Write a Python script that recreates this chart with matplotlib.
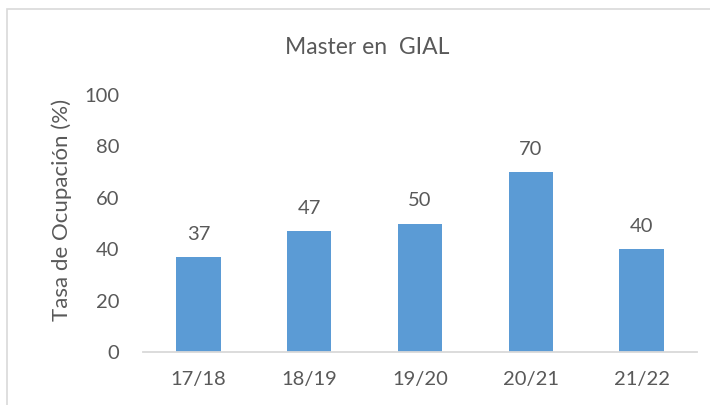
import matplotlib
matplotlib.use("Agg")
import matplotlib.pyplot as plt
from matplotlib.patches import Rectangle

categories = ["17/18", "18/19", "19/20", "20/21", "21/22"]
values = [37, 47, 50, 70, 40]
yticks = [0, 20, 40, 60, 80, 100]

W, H = 710, 405
fig = plt.figure(figsize=(W/100, H/100), dpi=100)
plt.rcParams['font.family'] = ['Lato', 'DejaVu Sans']
txt = '#595959'

ax = fig.add_axes([143/W, 1-352/H, (697-143)/W, (352-95)/H])
x = range(len(categories))
ax.bar(x, values, width=0.4, color='#5B9BD5')
ax.set_xlim(-0.5, len(categories)-0.5)
ax.set_ylim(0, 100)
ax.set_yticks(yticks)
ax.set_xticks(list(x))
ax.set_xticklabels(categories)
for s in ['top', 'right', 'left']:
    ax.spines[s].set_visible(False)
ax.spines['bottom'].set_color('#D9D9D9')
ax.spines['bottom'].set_linewidth(1.3)
ax.tick_params(axis='both', length=0, labelsize=14.5, colors=txt)
ax.tick_params(axis='y', pad=17)
ax.tick_params(axis='x', pad=14)
for xi, v in zip(x, values):
    ax.text(xi, v + 5.5, f"{v}", ha='center', va='bottom', fontsize=14.5, color=txt)

ax.set_ylabel("Tasa de Ocupación (%)", fontsize=16, color=txt, va='center')
ax.yaxis.set_label_coords(-0.146, 0.553)
fig.text(367/W, 1-47/H, "Master en  GIAL", ha='center', va='center', fontsize=16.5, color=txt)

fig.patches.append(Rectangle((7/W, -0.1), 1.2, 1-9/H+0.1, transform=fig.transFigure,
                             fill=False, edgecolor='#D9D9D9', linewidth=1.2))

fig.savefig("out.png", dpi=100)
